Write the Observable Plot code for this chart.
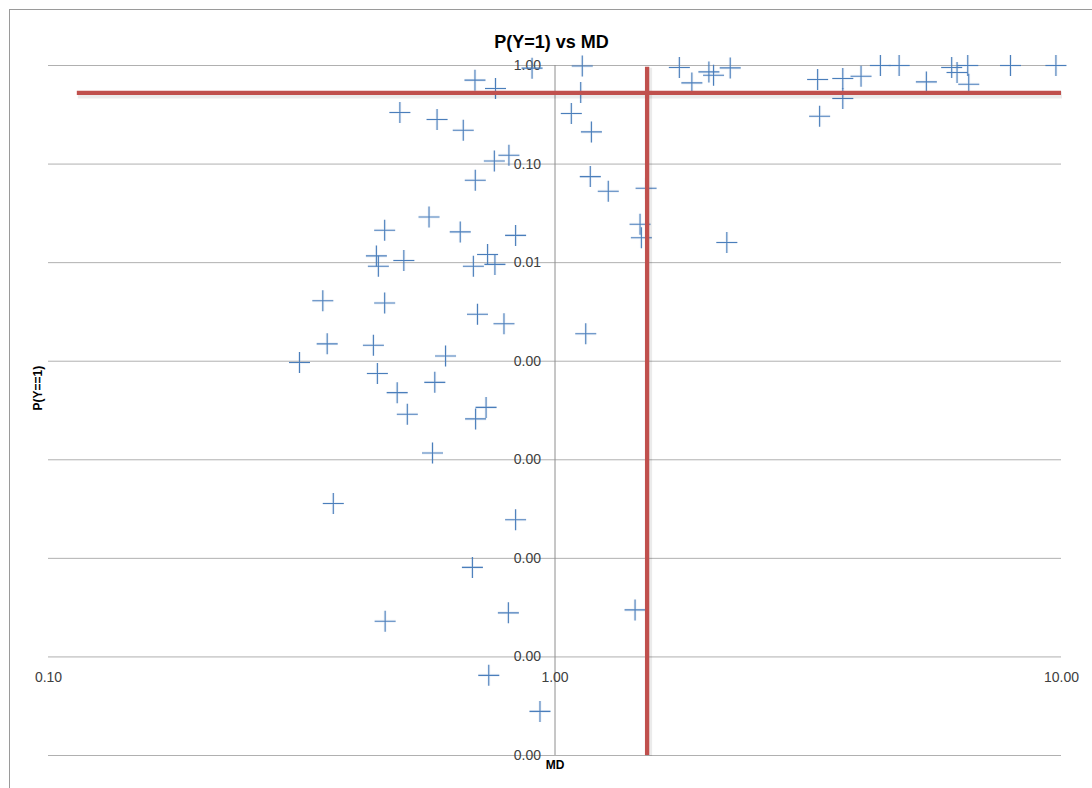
<!DOCTYPE html>
<html>
<head>
<meta charset="utf-8">
<script src="https://cdn.jsdelivr.net/npm/d3@7"></script>
<script src="https://cdn.jsdelivr.net/npm/@observablehq/plot@0.6"></script>
<style>
  html, body { margin: 0; padding: 0; background: #fff; }
  #wrap { position: relative; width: 1092px; height: 788px; overflow: hidden; }
  #border { position: absolute; left: 9px; top: 9px; width: 1100px; height: 800px;
            border-left: 1.5px solid #9a9a9a; border-top: 1.5px solid #9a9a9a; pointer-events: none; }
  svg { display: block; }
</style>
</head>
<body>
<div id="wrap"><div id="chart"></div><div id="border"></div></div>
<script>
// ---- data ----
const md = [0.313, 0.348, 0.355, 0.365, 0.438, 0.446, 0.444, 0.448, 0.461, 0.461,
            0.462, 0.488, 0.494, 0.503, 0.511, 0.564, 0.573, 0.579, 0.585, 0.608,
            0.650, 0.659, 0.687, 0.690, 0.695, 0.696, 0.697, 0.703, 0.731, 0.736,
            0.740, 0.759, 0.761, 0.763, 0.793, 0.809, 0.811, 0.836, 0.836, 0.901,
            0.934, 1.077, 1.124, 1.132, 1.150, 1.174, 1.180, 1.274, 1.439, 1.472,
            1.481, 1.513, 1.760, 1.863, 2.013, 2.056, 2.184, 2.218, 3.30, 3.33,
            3.70, 3.70, 4.02, 4.39, 4.78, 5.41, 6.07, 6.22, 6.53, 6.56,
            7.93, 9.75];
const pY1 = [9.7e-4, 0.0041, 0.0015, 3.6e-5, 0.00145, 7.5e-4, 0.0117, 0.0092, 0.0213, 0.0039,
             2.3e-6, 4.8e-4, 0.333, 0.0105, 2.9e-4, 0.029, 1.17e-4, 6.1e-4, 0.283, 0.00113,
             0.0205, 0.22, 8.1e-6, 0.0092, 0.71, 0.0685, 2.6e-4, 0.003, 3.4e-4, 0.0121,
             6.5e-7, 0.1075, 0.0096, 0.584, 0.0024, 2.8e-6, 0.123, 0.0189, 2.46e-5, 0.94,
             2.8e-7, 0.326, 0.532, 0.99, 0.0019, 0.0746, 0.212, 0.053, 3.0e-6, 0.0245,
             0.0179, 0.0568, 0.954, 0.666, 0.861, 0.797, 0.016, 0.945, 0.721, 0.306,
             0.738, 0.462, 0.779, 1.0, 1.0, 0.682, 0.954, 0.849, 1.0, 0.646,
             1.0, 1.0];

// threshold lines
const thresholdP = [0.527];
const thresholdPSpan = [0.114, 10];
const thresholdMD = [1.52];
const thresholdMDSpan = [1e-7, 0.96];

// ticks
const xTicks = [0.1, 1, 10];
const xTickLabels = ["0.10", "1.00", "10.00"];
const yTicks = [1, 0.1, 0.01, 0.001, 1e-4, 1e-5, 1e-6, 1e-7];
const yTickLabels = ["1.00", "0.10", "0.01", "0.00", "0.00", "0.00", "0.00", "0.00"];

const titleText = "P(Y=1) vs MD";
const xLabel = "MD";
const yLabel = "P(Y==1)";

// ---- derived tables ----
const points = md.map((m, i) => ({md: m, p: pY1[i]}));
const xAxisData = xTicks.map((v, i) => ({v, label: xTickLabels[i]}));
const yAxisData = yTicks.map((v, i) => ({v, label: yTickLabels[i]}));
const hLine = thresholdP.map(v => ({y: v, x1: thresholdPSpan[0], x2: thresholdPSpan[1]}));
const vLine = thresholdMD.map(v => ({x: v, y1: thresholdMDSpan[0], y2: thresholdMDSpan[1]}));

// a thin "+" marker like Excel's plus symbol
const plusSymbol = {
  draw(ctx, size) {
    const h = Math.sqrt(size / Math.PI);
    ctx.moveTo(-h, 0); ctx.lineTo(h, 0);
    ctx.moveTo(0, -h); ctx.lineTo(0, h);
  }
};

const red = "#C0504D";
const blue = "#4A7EBB";

const chart = Plot.plot({
  width: 1092,
  height: 788,
  marginLeft: 48,
  marginRight: 31,
  marginTop: 65,
  marginBottom: 33,
  style: {fontFamily: "Liberation Sans, Arial, sans-serif", background: "white"},
  x: {type: "log", domain: [0.1, 10], axis: null},
  y: {type: "log", domain: [1e-7, 1], axis: null},
  marks: [
    Plot.ruleY(yTicks, {stroke: "#b0b0b0", strokeWidth: 1}),
    Plot.ruleX([1], {stroke: "#8e8e8e", strokeWidth: 1}),
    Plot.text(yAxisData, {x: () => 1, y: "v", text: "label", textAnchor: "end", dx: -14,
                          fontSize: 14, fill: "#404040"}),
    Plot.text(xAxisData, {x: "v", text: "label", frameAnchor: "bottom", dy: -74,
                          fontSize: 14, fill: "#404040"}),
    Plot.dot(points, {x: "md", y: "p", r: 10.5, symbol: plusSymbol, fill: "none",
                      stroke: blue, strokeWidth: 3, strokeOpacity: 0.1}),
    Plot.dot(points, {x: "md", y: "p", r: 10.5, symbol: plusSymbol, fill: "none",
                      stroke: blue, strokeWidth: 1.1}),
    // soft shadows of the red threshold lines
    Plot.ruleY(hLine, {y: "y", x1: "x1", x2: "x2", stroke: "#000", strokeOpacity: 0.08,
                       strokeWidth: 7, dy: 2, dx: 1}),
    Plot.ruleX(vLine, {x: "x", y1: "y1", y2: "y2", stroke: "#000", strokeOpacity: 0.08,
                       strokeWidth: 7, dx: 1.5, dy: 1}),
    Plot.ruleY(hLine, {y: "y", x1: "x1", x2: "x2", stroke: red, strokeWidth: 4.3}),
    Plot.ruleX(vLine, {x: "x", y1: "y1", y2: "y2", stroke: red, strokeWidth: 4.3}),
    Plot.text([titleText], {frameAnchor: "top", dy: -30, dx: -3.5, fontSize: 18,
                            fontWeight: "bold", fill: "#000"}),
    Plot.text([xLabel], {x: () => 1, frameAnchor: "bottom", dy: 13, fontSize: 12,
                         fontWeight: "bold", fill: "#000"}),
    Plot.text([yLabel], {frameAnchor: "left", dx: -10, rotate: -90, fontSize: 12,
                         fontWeight: "bold", fill: "#000"})
  ]
});
document.getElementById("chart").appendChild(chart);
</script>
</body>
</html>
